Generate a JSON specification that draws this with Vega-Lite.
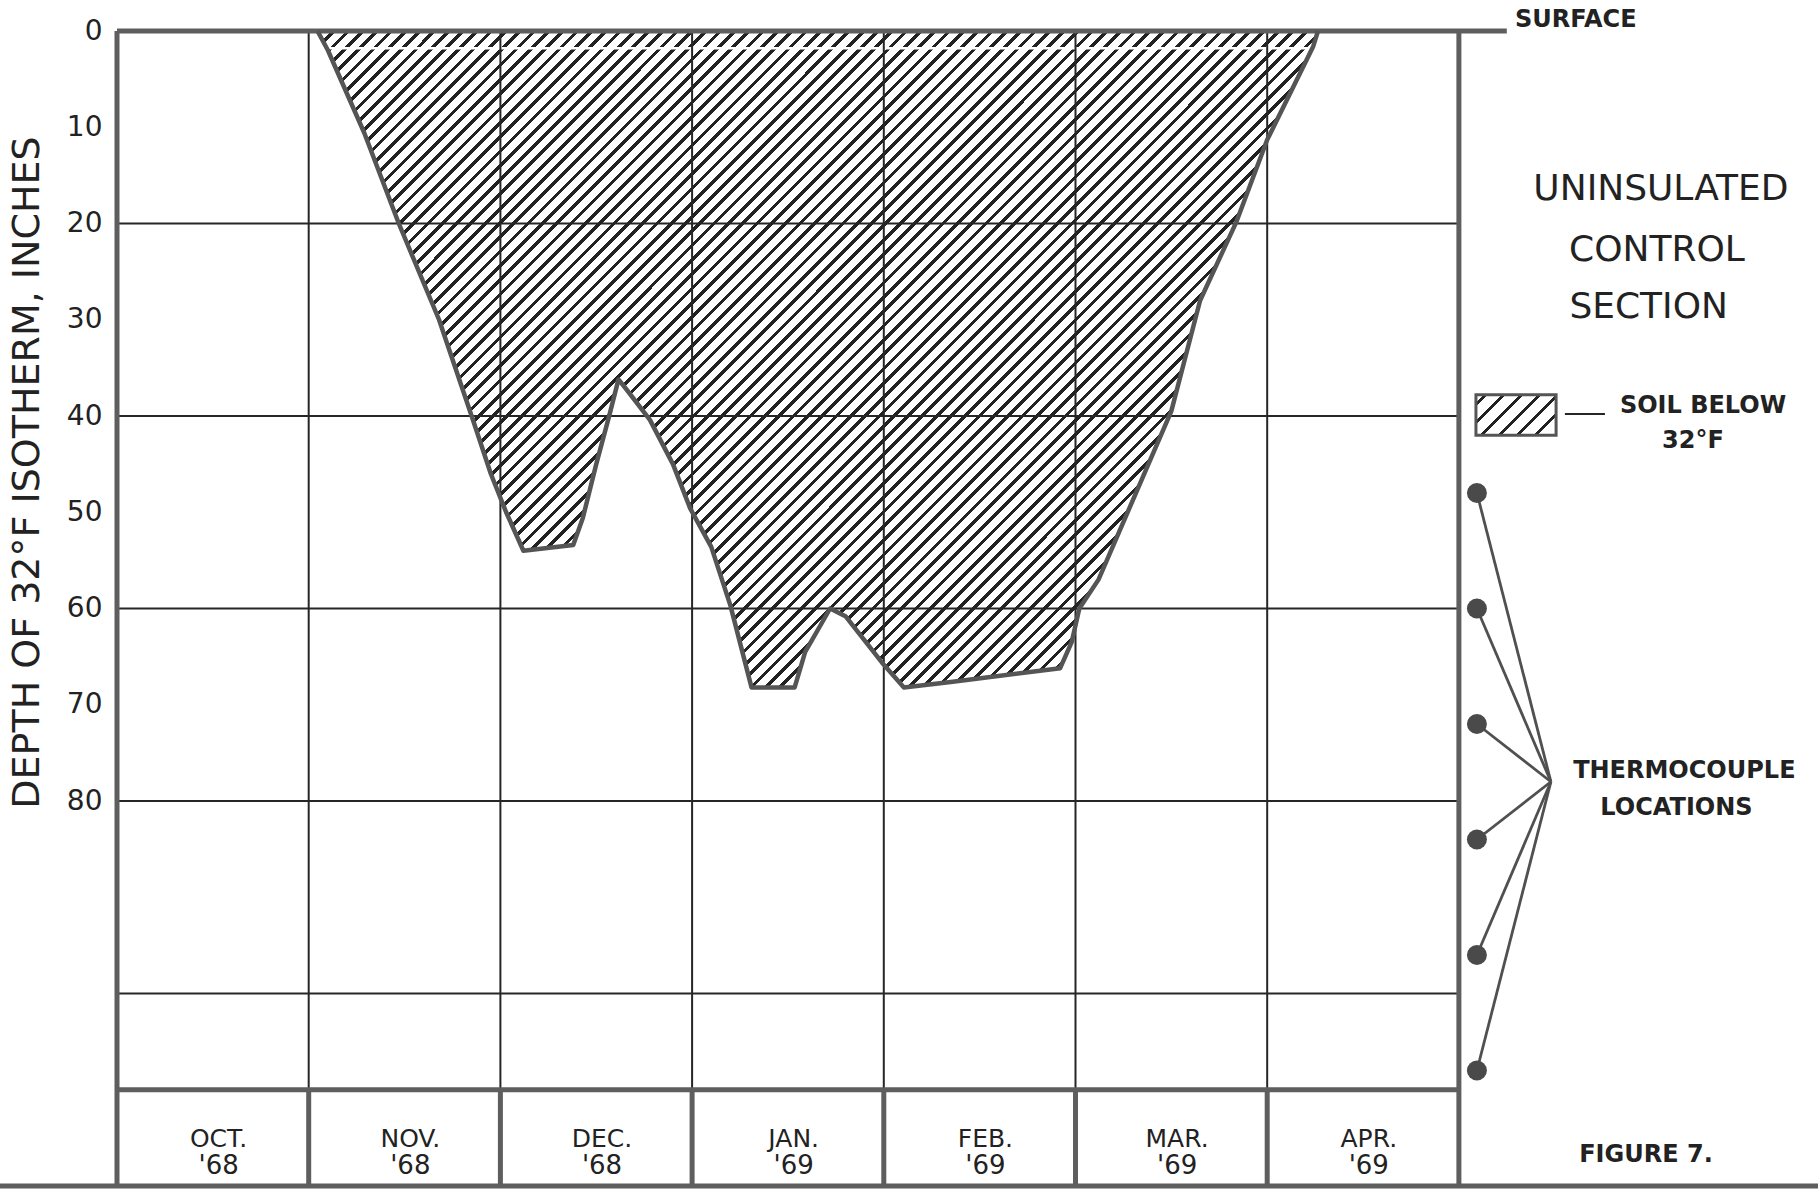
{
"$schema": "https://vega.github.io/schema/vega-lite/v6.json",
"width": 1701,
"height": 1155,
"autosize": {"type": "none"},
"padding": {"left": 117, "top": 31, "right": 0, "bottom": 6},
"background": "white",
"config": {"view": {"stroke": null}, "font": "DejaVu Sans"},
"datasets": {
"profile": [
{"x":1.046,"y":0},{"x":1.10,"y":2},{"x":1.29,"y":10.6},{"x":1.47,"y":20},{"x":1.68,"y":30},{"x":1.85,"y":40},{"x":1.95,"y":46},{"x":2.03,"y":50},{"x":2.12,"y":54},{"x":2.38,"y":53.4},{"x":2.43,"y":50.6},{"x":2.50,"y":45},{"x":2.57,"y":39.8},{"x":2.616,"y":36.2},{"x":2.66,"y":37.3},{"x":2.78,"y":40.4},{"x":2.90,"y":45},{"x":2.99,"y":49.6},{"x":3.10,"y":53.6},{"x":3.20,"y":59.7},{"x":3.31,"y":68.2},{"x":3.535,"y":68.2},{"x":3.59,"y":64.5},{"x":3.72,"y":60},{"x":3.80,"y":60.8},{"x":3.99,"y":65.6},{"x":4.105,"y":68.2},{"x":4.36,"y":67.6},{"x":4.92,"y":66.2},{"x":4.98,"y":63.5},{"x":5.02,"y":60},{"x":5.12,"y":57},{"x":5.50,"y":39.5},{"x":5.65,"y":28},{"x":5.84,"y":19.8},{"x":6.00,"y":11.3},{"x":6.24,"y":1.6},{"x":6.265,"y":0}
],
"band": [{"x":1.09,"x2":6.245,"y":1.8,"y2":1.8}],
"thin": [
{"x":1,"x2":1,"y":0,"y2":110},{"x":2,"x2":2,"y":0,"y2":110},{"x":3,"x2":3,"y":0,"y2":110},{"x":4,"x2":4,"y":0,"y2":110},{"x":5,"x2":5,"y":0,"y2":110},{"x":6,"x2":6,"y":0,"y2":110},
{"x":0,"x2":7,"y":20,"y2":20},{"x":0,"x2":7,"y":40,"y2":40},{"x":0,"x2":7,"y":60,"y2":60},{"x":0,"x2":7,"y":80,"y2":80},{"x":0,"x2":7,"y":100,"y2":100},
{"x":7.553,"x2":7.762,"y":39.8,"y2":39.8}
],
"thick": [
{"x":0,"x2":0,"y":0,"y2":120},{"x":7,"x2":7,"y":0,"y2":120},
{"x":1,"x2":1,"y":110,"y2":120},{"x":2,"x2":2,"y":110,"y2":120},{"x":3,"x2":3,"y":110,"y2":120},{"x":4,"x2":4,"y":110,"y2":120},{"x":5,"x2":5,"y":110,"y2":120},{"x":6,"x2":6,"y":110,"y2":120},
{"x":0,"x2":7.25,"y":0,"y2":0},{"x":0,"x2":7,"y":110,"y2":110},{"x":-0.62,"x2":8.8733,"y":120,"y2":120}
],
"swatch": [{"x":7.089,"x2":7.507,"y":37.8,"y2":42.0}],
"thermo": [
{"x":7.094,"y":48,"x2":7.48,"y2":78},{"x":7.094,"y":60,"x2":7.48,"y2":78},{"x":7.094,"y":72,"x2":7.48,"y2":78},{"x":7.094,"y":84,"x2":7.48,"y2":78},{"x":7.094,"y":96,"x2":7.48,"y2":78},{"x":7.094,"y":108,"x2":7.48,"y2":78}
],
"bigtext": [{"x":8.054,"y":16.4,"label":"UNINSULATED"},{"x":8.033,"y":22.75,"label":"CONTROL"},{"x":7.99,"y":28.7,"label":"SECTION"}],
"boldleft": [{"x":7.293,"y":-1.14,"label":"SURFACE"},{"x":7.84,"y":38.96,"label":"SOIL BELOW"}],
"boldcenter": [{"x":8.221,"y":42.6,"label":"32°F"},{"x":8.176,"y":76.9,"label":"THERMOCOUPLE"},{"x":8.135,"y":80.7,"label":"LOCATIONS"},{"x":7.976,"y":116.8,"label":"FIGURE 7."}],
"months": [{"x":0.53,"y":115.1,"label":"OCT."},{"x":1.53,"y":115.1,"label":"NOV."},{"x":2.53,"y":115.1,"label":"DEC."},{"x":3.53,"y":115.1,"label":"JAN."},{"x":4.53,"y":115.1,"label":"FEB."},{"x":5.53,"y":115.1,"label":"MAR."},{"x":6.53,"y":115.1,"label":"APR."}],
"years": [{"x":0.53,"y":117.9,"label":"'68"},{"x":1.53,"y":117.9,"label":"'68"},{"x":2.53,"y":117.9,"label":"'68"},{"x":3.53,"y":117.9,"label":"'69"},{"x":4.53,"y":117.9,"label":"'69"},{"x":5.53,"y":117.9,"label":"'69"},{"x":6.53,"y":117.9,"label":"'69"}]
},
"encoding": {
"x": {"field": "x", "type": "quantitative", "scale": {"domain": [0, 8.8733], "nice": false, "zero": false}, "axis": null},
"y": {"field": "y", "type": "quantitative", "scale": {"domain": [0, 120], "nice": false, "zero": false, "reverse": true},
 "axis": {"values": [0,10,20,30,40,50,60,70,80], "grid": false, "domain": false, "ticks": false, "labelPadding": 15, "labelFont": "DejaVu Sans", "labelFontSize": 28, "labelColor": "#222", "title": "DEPTH OF 32°F ISOTHERM, INCHES", "titleFont": "DejaVu Sans", "titleFontSize": 38, "titleFontWeight": "normal", "titleColor": "#222", "titleX": -90, "titleY": 441, "titleAngle": -90, "titleAlign": "center", "titleBaseline": "middle"}}
},
"layer": [
{"data": {"name": "profile"}, "mark": {"type": "area", "interpolate": "linear", "fill": {"gradient": "linear", "x1": 0, "y1": 0, "x2": 1, "y2": 0.656, "stops": [
{"offset":0,"color":"#222"},{"offset":0.0033,"color":"#222"},{"offset":0.0033,"color":"#fff"},{"offset":0.01,"color":"#fff"},
{"offset":0.01,"color":"#222"},{"offset":0.0133,"color":"#222"},{"offset":0.0133,"color":"#fff"},{"offset":0.02,"color":"#fff"},
{"offset":0.02,"color":"#222"},{"offset":0.0233,"color":"#222"},{"offset":0.0233,"color":"#fff"},{"offset":0.03,"color":"#fff"},
{"offset":0.03,"color":"#222"},{"offset":0.0333,"color":"#222"},{"offset":0.0333,"color":"#fff"},{"offset":0.04,"color":"#fff"},
{"offset":0.04,"color":"#222"},{"offset":0.0433,"color":"#222"},{"offset":0.0433,"color":"#fff"},{"offset":0.05,"color":"#fff"},
{"offset":0.05,"color":"#222"},{"offset":0.0533,"color":"#222"},{"offset":0.0533,"color":"#fff"},{"offset":0.06,"color":"#fff"},
{"offset":0.06,"color":"#222"},{"offset":0.0633,"color":"#222"},{"offset":0.0633,"color":"#fff"},{"offset":0.07,"color":"#fff"},
{"offset":0.07,"color":"#222"},{"offset":0.0733,"color":"#222"},{"offset":0.0733,"color":"#fff"},{"offset":0.08,"color":"#fff"},
{"offset":0.08,"color":"#222"},{"offset":0.0833,"color":"#222"},{"offset":0.0833,"color":"#fff"},{"offset":0.09,"color":"#fff"},
{"offset":0.09,"color":"#222"},{"offset":0.0933,"color":"#222"},{"offset":0.0933,"color":"#fff"},{"offset":0.10,"color":"#fff"},
{"offset":0.10,"color":"#222"},{"offset":0.1033,"color":"#222"},{"offset":0.1033,"color":"#fff"},{"offset":0.11,"color":"#fff"},
{"offset":0.11,"color":"#222"},{"offset":0.1133,"color":"#222"},{"offset":0.1133,"color":"#fff"},{"offset":0.12,"color":"#fff"},
{"offset":0.12,"color":"#222"},{"offset":0.1233,"color":"#222"},{"offset":0.1233,"color":"#fff"},{"offset":0.13,"color":"#fff"},
{"offset":0.13,"color":"#222"},{"offset":0.1333,"color":"#222"},{"offset":0.1333,"color":"#fff"},{"offset":0.14,"color":"#fff"},
{"offset":0.14,"color":"#222"},{"offset":0.1433,"color":"#222"},{"offset":0.1433,"color":"#fff"},{"offset":0.15,"color":"#fff"},
{"offset":0.15,"color":"#222"},{"offset":0.1533,"color":"#222"},{"offset":0.1533,"color":"#fff"},{"offset":0.16,"color":"#fff"},
{"offset":0.16,"color":"#222"},{"offset":0.1633,"color":"#222"},{"offset":0.1633,"color":"#fff"},{"offset":0.17,"color":"#fff"},
{"offset":0.17,"color":"#222"},{"offset":0.1733,"color":"#222"},{"offset":0.1733,"color":"#fff"},{"offset":0.18,"color":"#fff"},
{"offset":0.18,"color":"#222"},{"offset":0.1833,"color":"#222"},{"offset":0.1833,"color":"#fff"},{"offset":0.19,"color":"#fff"},
{"offset":0.19,"color":"#222"},{"offset":0.1933,"color":"#222"},{"offset":0.1933,"color":"#fff"},{"offset":0.20,"color":"#fff"},
{"offset":0.20,"color":"#222"},{"offset":0.2033,"color":"#222"},{"offset":0.2033,"color":"#fff"},{"offset":0.21,"color":"#fff"},
{"offset":0.21,"color":"#222"},{"offset":0.2133,"color":"#222"},{"offset":0.2133,"color":"#fff"},{"offset":0.22,"color":"#fff"},
{"offset":0.22,"color":"#222"},{"offset":0.2233,"color":"#222"},{"offset":0.2233,"color":"#fff"},{"offset":0.23,"color":"#fff"},
{"offset":0.23,"color":"#222"},{"offset":0.2333,"color":"#222"},{"offset":0.2333,"color":"#fff"},{"offset":0.24,"color":"#fff"},
{"offset":0.24,"color":"#222"},{"offset":0.2433,"color":"#222"},{"offset":0.2433,"color":"#fff"},{"offset":0.25,"color":"#fff"},
{"offset":0.25,"color":"#222"},{"offset":0.2533,"color":"#222"},{"offset":0.2533,"color":"#fff"},{"offset":0.26,"color":"#fff"},
{"offset":0.26,"color":"#222"},{"offset":0.2633,"color":"#222"},{"offset":0.2633,"color":"#fff"},{"offset":0.27,"color":"#fff"},
{"offset":0.27,"color":"#222"},{"offset":0.2733,"color":"#222"},{"offset":0.2733,"color":"#fff"},{"offset":0.28,"color":"#fff"},
{"offset":0.28,"color":"#222"},{"offset":0.2833,"color":"#222"},{"offset":0.2833,"color":"#fff"},{"offset":0.29,"color":"#fff"},
{"offset":0.29,"color":"#222"},{"offset":0.2933,"color":"#222"},{"offset":0.2933,"color":"#fff"},{"offset":0.30,"color":"#fff"},
{"offset":0.30,"color":"#222"},{"offset":0.3033,"color":"#222"},{"offset":0.3033,"color":"#fff"},{"offset":0.31,"color":"#fff"},
{"offset":0.31,"color":"#222"},{"offset":0.3133,"color":"#222"},{"offset":0.3133,"color":"#fff"},{"offset":0.32,"color":"#fff"},
{"offset":0.32,"color":"#222"},{"offset":0.3233,"color":"#222"},{"offset":0.3233,"color":"#fff"},{"offset":0.33,"color":"#fff"},
{"offset":0.33,"color":"#222"},{"offset":0.3333,"color":"#222"},{"offset":0.3333,"color":"#fff"},{"offset":0.34,"color":"#fff"},
{"offset":0.34,"color":"#222"},{"offset":0.3433,"color":"#222"},{"offset":0.3433,"color":"#fff"},{"offset":0.35,"color":"#fff"},
{"offset":0.35,"color":"#222"},{"offset":0.3533,"color":"#222"},{"offset":0.3533,"color":"#fff"},{"offset":0.36,"color":"#fff"},
{"offset":0.36,"color":"#222"},{"offset":0.3633,"color":"#222"},{"offset":0.3633,"color":"#fff"},{"offset":0.37,"color":"#fff"},
{"offset":0.37,"color":"#222"},{"offset":0.3733,"color":"#222"},{"offset":0.3733,"color":"#fff"},{"offset":0.38,"color":"#fff"},
{"offset":0.38,"color":"#222"},{"offset":0.3833,"color":"#222"},{"offset":0.3833,"color":"#fff"},{"offset":0.39,"color":"#fff"},
{"offset":0.39,"color":"#222"},{"offset":0.3933,"color":"#222"},{"offset":0.3933,"color":"#fff"},{"offset":0.40,"color":"#fff"},
{"offset":0.40,"color":"#222"},{"offset":0.4033,"color":"#222"},{"offset":0.4033,"color":"#fff"},{"offset":0.41,"color":"#fff"},
{"offset":0.41,"color":"#222"},{"offset":0.4133,"color":"#222"},{"offset":0.4133,"color":"#fff"},{"offset":0.42,"color":"#fff"},
{"offset":0.42,"color":"#222"},{"offset":0.4233,"color":"#222"},{"offset":0.4233,"color":"#fff"},{"offset":0.43,"color":"#fff"},
{"offset":0.43,"color":"#222"},{"offset":0.4333,"color":"#222"},{"offset":0.4333,"color":"#fff"},{"offset":0.44,"color":"#fff"},
{"offset":0.44,"color":"#222"},{"offset":0.4433,"color":"#222"},{"offset":0.4433,"color":"#fff"},{"offset":0.45,"color":"#fff"},
{"offset":0.45,"color":"#222"},{"offset":0.4533,"color":"#222"},{"offset":0.4533,"color":"#fff"},{"offset":0.46,"color":"#fff"},
{"offset":0.46,"color":"#222"},{"offset":0.4633,"color":"#222"},{"offset":0.4633,"color":"#fff"},{"offset":0.47,"color":"#fff"},
{"offset":0.47,"color":"#222"},{"offset":0.4733,"color":"#222"},{"offset":0.4733,"color":"#fff"},{"offset":0.48,"color":"#fff"},
{"offset":0.48,"color":"#222"},{"offset":0.4833,"color":"#222"},{"offset":0.4833,"color":"#fff"},{"offset":0.49,"color":"#fff"},
{"offset":0.49,"color":"#222"},{"offset":0.4933,"color":"#222"},{"offset":0.4933,"color":"#fff"},{"offset":0.50,"color":"#fff"},
{"offset":0.50,"color":"#222"},{"offset":0.5033,"color":"#222"},{"offset":0.5033,"color":"#fff"},{"offset":0.51,"color":"#fff"},
{"offset":0.51,"color":"#222"},{"offset":0.5133,"color":"#222"},{"offset":0.5133,"color":"#fff"},{"offset":0.52,"color":"#fff"},
{"offset":0.52,"color":"#222"},{"offset":0.5233,"color":"#222"},{"offset":0.5233,"color":"#fff"},{"offset":0.53,"color":"#fff"},
{"offset":0.53,"color":"#222"},{"offset":0.5333,"color":"#222"},{"offset":0.5333,"color":"#fff"},{"offset":0.54,"color":"#fff"},
{"offset":0.54,"color":"#222"},{"offset":0.5433,"color":"#222"},{"offset":0.5433,"color":"#fff"},{"offset":0.55,"color":"#fff"},
{"offset":0.55,"color":"#222"},{"offset":0.5533,"color":"#222"},{"offset":0.5533,"color":"#fff"},{"offset":0.56,"color":"#fff"},
{"offset":0.56,"color":"#222"},{"offset":0.5633,"color":"#222"},{"offset":0.5633,"color":"#fff"},{"offset":0.57,"color":"#fff"},
{"offset":0.57,"color":"#222"},{"offset":0.5733,"color":"#222"},{"offset":0.5733,"color":"#fff"},{"offset":0.58,"color":"#fff"},
{"offset":0.58,"color":"#222"},{"offset":0.5833,"color":"#222"},{"offset":0.5833,"color":"#fff"},{"offset":0.59,"color":"#fff"},
{"offset":0.59,"color":"#222"},{"offset":0.5933,"color":"#222"},{"offset":0.5933,"color":"#fff"},{"offset":0.60,"color":"#fff"},
{"offset":0.60,"color":"#222"},{"offset":0.6033,"color":"#222"},{"offset":0.6033,"color":"#fff"},{"offset":0.61,"color":"#fff"},
{"offset":0.61,"color":"#222"},{"offset":0.6133,"color":"#222"},{"offset":0.6133,"color":"#fff"},{"offset":0.62,"color":"#fff"},
{"offset":0.62,"color":"#222"},{"offset":0.6233,"color":"#222"},{"offset":0.6233,"color":"#fff"},{"offset":0.63,"color":"#fff"},
{"offset":0.63,"color":"#222"},{"offset":0.6333,"color":"#222"},{"offset":0.6333,"color":"#fff"},{"offset":0.64,"color":"#fff"},
{"offset":0.64,"color":"#222"},{"offset":0.6433,"color":"#222"},{"offset":0.6433,"color":"#fff"},{"offset":0.65,"color":"#fff"},
{"offset":0.65,"color":"#222"},{"offset":0.6533,"color":"#222"},{"offset":0.6533,"color":"#fff"},{"offset":0.66,"color":"#fff"},
{"offset":0.66,"color":"#222"},{"offset":0.6633,"color":"#222"},{"offset":0.6633,"color":"#fff"},{"offset":0.67,"color":"#fff"},
{"offset":0.67,"color":"#222"},{"offset":0.6733,"color":"#222"},{"offset":0.6733,"color":"#fff"},{"offset":0.68,"color":"#fff"},
{"offset":0.68,"color":"#222"},{"offset":0.6833,"color":"#222"},{"offset":0.6833,"color":"#fff"},{"offset":0.69,"color":"#fff"},
{"offset":0.69,"color":"#222"},{"offset":0.6933,"color":"#222"},{"offset":0.6933,"color":"#fff"},{"offset":0.70,"color":"#fff"},
{"offset":0.70,"color":"#222"},{"offset":0.7033,"color":"#222"},{"offset":0.7033,"color":"#fff"},{"offset":0.71,"color":"#fff"},
{"offset":0.71,"color":"#222"},{"offset":0.7133,"color":"#222"},{"offset":0.7133,"color":"#fff"},{"offset":0.72,"color":"#fff"},
{"offset":0.72,"color":"#222"},{"offset":0.7233,"color":"#222"},{"offset":0.7233,"color":"#fff"},{"offset":0.73,"color":"#fff"},
{"offset":0.73,"color":"#222"},{"offset":0.7333,"color":"#222"},{"offset":0.7333,"color":"#fff"},{"offset":0.74,"color":"#fff"},
{"offset":0.74,"color":"#222"},{"offset":0.7433,"color":"#222"},{"offset":0.7433,"color":"#fff"},{"offset":0.75,"color":"#fff"},
{"offset":0.75,"color":"#222"},{"offset":0.7533,"color":"#222"},{"offset":0.7533,"color":"#fff"},{"offset":0.76,"color":"#fff"},
{"offset":0.76,"color":"#222"},{"offset":0.7633,"color":"#222"},{"offset":0.7633,"color":"#fff"},{"offset":0.77,"color":"#fff"},
{"offset":0.77,"color":"#222"},{"offset":0.7733,"color":"#222"},{"offset":0.7733,"color":"#fff"},{"offset":0.78,"color":"#fff"},
{"offset":0.78,"color":"#222"},{"offset":0.7833,"color":"#222"},{"offset":0.7833,"color":"#fff"},{"offset":0.79,"color":"#fff"},
{"offset":0.79,"color":"#222"},{"offset":0.7933,"color":"#222"},{"offset":0.7933,"color":"#fff"},{"offset":0.80,"color":"#fff"},
{"offset":0.80,"color":"#222"},{"offset":0.8033,"color":"#222"},{"offset":0.8033,"color":"#fff"},{"offset":0.81,"color":"#fff"},
{"offset":0.81,"color":"#222"},{"offset":0.8133,"color":"#222"},{"offset":0.8133,"color":"#fff"},{"offset":0.82,"color":"#fff"},
{"offset":0.82,"color":"#222"},{"offset":0.8233,"color":"#222"},{"offset":0.8233,"color":"#fff"},{"offset":0.83,"color":"#fff"},
{"offset":0.83,"color":"#222"},{"offset":0.8333,"color":"#222"},{"offset":0.8333,"color":"#fff"},{"offset":0.84,"color":"#fff"},
{"offset":0.84,"color":"#222"},{"offset":0.8433,"color":"#222"},{"offset":0.8433,"color":"#fff"},{"offset":0.85,"color":"#fff"},
{"offset":0.85,"color":"#222"},{"offset":0.8533,"color":"#222"},{"offset":0.8533,"color":"#fff"},{"offset":0.86,"color":"#fff"},
{"offset":0.86,"color":"#222"},{"offset":0.8633,"color":"#222"},{"offset":0.8633,"color":"#fff"},{"offset":0.87,"color":"#fff"},
{"offset":0.87,"color":"#222"},{"offset":0.8733,"color":"#222"},{"offset":0.8733,"color":"#fff"},{"offset":0.88,"color":"#fff"},
{"offset":0.88,"color":"#222"},{"offset":0.8833,"color":"#222"},{"offset":0.8833,"color":"#fff"},{"offset":0.89,"color":"#fff"},
{"offset":0.89,"color":"#222"},{"offset":0.8933,"color":"#222"},{"offset":0.8933,"color":"#fff"},{"offset":0.90,"color":"#fff"},
{"offset":0.90,"color":"#222"},{"offset":0.9033,"color":"#222"},{"offset":0.9033,"color":"#fff"},{"offset":0.91,"color":"#fff"},
{"offset":0.91,"color":"#222"},{"offset":0.9133,"color":"#222"},{"offset":0.9133,"color":"#fff"},{"offset":0.92,"color":"#fff"},
{"offset":0.92,"color":"#222"},{"offset":0.9233,"color":"#222"},{"offset":0.9233,"color":"#fff"},{"offset":0.93,"color":"#fff"},
{"offset":0.93,"color":"#222"},{"offset":0.9333,"color":"#222"},{"offset":0.9333,"color":"#fff"},{"offset":0.94,"color":"#fff"},
{"offset":0.94,"color":"#222"},{"offset":0.9433,"color":"#222"},{"offset":0.9433,"color":"#fff"},{"offset":0.95,"color":"#fff"},
{"offset":0.95,"color":"#222"},{"offset":0.9533,"color":"#222"},{"offset":0.9533,"color":"#fff"},{"offset":0.96,"color":"#fff"},
{"offset":0.96,"color":"#222"},{"offset":0.9633,"color":"#222"},{"offset":0.9633,"color":"#fff"},{"offset":0.97,"color":"#fff"},
{"offset":0.97,"color":"#222"},{"offset":0.9733,"color":"#222"},{"offset":0.9733,"color":"#fff"},{"offset":1,"color":"#fff"}
]}}, "encoding": {"y2": {"datum": 0}}},
{"data": {"name": "band"}, "mark": {"type": "rule", "stroke": "#ffffff", "strokeWidth": 2.5}, "encoding": {"x2": {"field": "x2"}, "y2": {"field": "y2"}}},
{"data": {"name": "thin"}, "mark": {"type": "rule", "stroke": "#262626", "strokeWidth": 2}, "encoding": {"x2": {"field": "x2"}, "y2": {"field": "y2"}}},
{"data": {"name": "thick"}, "mark": {"type": "rule", "stroke": "#5e5e5e", "strokeWidth": 5}, "encoding": {"x2": {"field": "x2"}, "y2": {"field": "y2"}}},
{"data": {"name": "profile"}, "mark": {"type": "line", "stroke": "#555555", "strokeWidth": 4.5, "strokeJoin": "round"}, "encoding": {}},
{"data": {"name": "swatch"}, "mark": {"type": "rect", "stroke": "#555555", "strokeWidth": 3, "fill": {"gradient": "linear", "x1": 0, "y1": 0, "x2": 1.2, "y2": 0.6, "stops": [
{"offset":0,"color":"#fff"},{"offset":0.06,"color":"#fff"},{"offset":0.06,"color":"#222"},{"offset":0.095,"color":"#222"},{"offset":0.095,"color":"#fff"},
{"offset":0.21,"color":"#fff"},{"offset":0.21,"color":"#222"},{"offset":0.245,"color":"#222"},{"offset":0.245,"color":"#fff"},
{"offset":0.36,"color":"#fff"},{"offset":0.36,"color":"#222"},{"offset":0.395,"color":"#222"},{"offset":0.395,"color":"#fff"},
{"offset":0.51,"color":"#fff"},{"offset":0.51,"color":"#222"},{"offset":0.545,"color":"#222"},{"offset":0.545,"color":"#fff"},
{"offset":0.66,"color":"#fff"},{"offset":0.66,"color":"#222"},{"offset":0.695,"color":"#222"},{"offset":0.695,"color":"#fff"},
{"offset":0.81,"color":"#fff"},{"offset":0.81,"color":"#222"},{"offset":0.845,"color":"#222"},{"offset":0.845,"color":"#fff"},
{"offset":1,"color":"#fff"}
]}}, "encoding": {"x2": {"field": "x2"}, "y2": {"field": "y2"}}},
{"data": {"name": "thermo"}, "mark": {"type": "rule", "stroke": "#505050", "strokeWidth": 2.8}, "encoding": {"x2": {"field": "x2"}, "y2": {"field": "y2"}}},
{"data": {"name": "thermo"}, "mark": {"type": "point", "filled": true, "shape": "circle", "size": 400, "color": "#4a4a4a", "opacity": 1}, "encoding": {}},
{"data": {"name": "bigtext"}, "mark": {"type": "text", "font": "DejaVu Sans", "fontSize": 36, "align": "center", "baseline": "middle", "color": "#222"}, "encoding": {"text": {"field": "label"}}},
{"data": {"name": "boldleft"}, "mark": {"type": "text", "font": "DejaVu Sans", "fontSize": 24, "fontWeight": "bold", "align": "left", "baseline": "middle", "color": "#222"}, "encoding": {"text": {"field": "label"}}},
{"data": {"name": "boldcenter"}, "mark": {"type": "text", "font": "DejaVu Sans", "fontSize": 24, "fontWeight": "bold", "align": "center", "baseline": "middle", "color": "#222"}, "encoding": {"text": {"field": "label"}}},
{"data": {"name": "months"}, "mark": {"type": "text", "font": "DejaVu Sans", "fontSize": 25, "align": "center", "baseline": "middle", "color": "#222"}, "encoding": {"text": {"field": "label"}}},
{"data": {"name": "years"}, "mark": {"type": "text", "font": "DejaVu Sans", "fontSize": 26, "align": "center", "baseline": "middle", "color": "#222"}, "encoding": {"text": {"field": "label"}}}
]
}
